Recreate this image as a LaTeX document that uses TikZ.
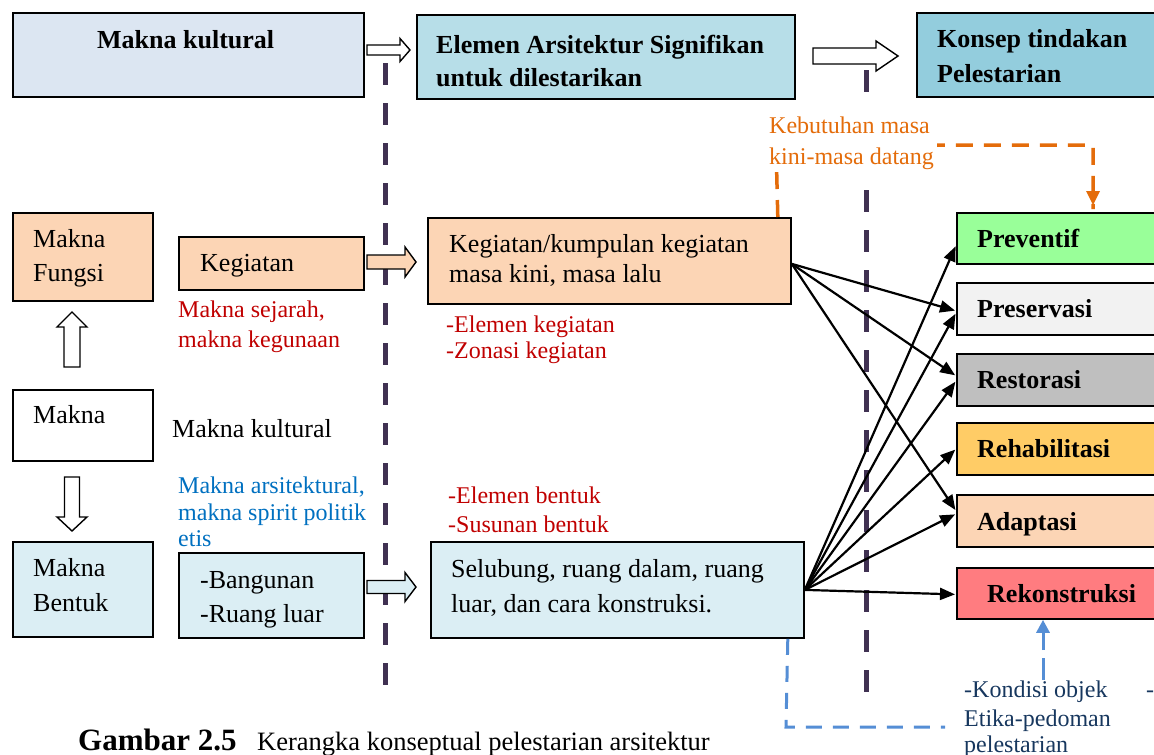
\documentclass[tikz,border=0pt]{standalone}
\usepackage{fontspec}
\setmainfont{Liberation Serif}
\usetikzlibrary{arrows.meta}
\definecolor{cHead}{HTML}{DCE6F2}
\definecolor{cElem}{HTML}{B7DEE8}
\definecolor{cKons}{HTML}{93CDDD}
\definecolor{cPeach}{HTML}{FCD5B5}
\definecolor{cLblue}{HTML}{DBEEF4}
\definecolor{cPrev}{HTML}{99FF99}
\definecolor{cPres}{HTML}{F2F2F2}
\definecolor{cRest}{HTML}{BFBFBF}
\definecolor{cReha}{HTML}{FFCC66}
\definecolor{cRek}{HTML}{FF7C80}
\definecolor{cRed}{HTML}{C00000}
\definecolor{cBlue}{HTML}{0070C0}
\definecolor{cOrange}{HTML}{E46C0A}
\definecolor{cNavy}{HTML}{17375E}
\definecolor{cPurple}{HTML}{403152}
\definecolor{cDashBlue}{HTML}{558ED5}
\begin{document}
\begin{tikzpicture}[x=1pt,y=-1pt,
  box/.style={draw=black, line width=1.8pt, inner sep=0pt, anchor=north west},
  txt/.style={anchor=base west, inner sep=0pt, font=\fontsize{26}{34}\selectfont},
  btxt/.style={anchor=base west, inner sep=0pt, font=\fontsize{26}{34}\selectfont\bfseries},
  note/.style={anchor=base west, inner sep=0pt, font=\fontsize{24}{28}\selectfont},
  harrow/.style={draw=black, line width=1.4pt, fill=white},
  conn/.style={draw=black, line width=2.2pt, -{Triangle[length=15pt,width=12pt]}, shorten >=1pt},
  sepline/.style={draw=cPurple, line width=5pt, dash pattern=on 22pt off 18pt}
]
\useasboundingbox (0,0) rectangle (1154,755);
\clip (0,0) rectangle (1154,755);

% --- boxes ---
\node[box, fill=cHead, minimum width=351pt, minimum height=84pt] (mk) at (12,12) {};
\node[box, fill=cElem, minimum width=378pt, minimum height=84pt] (el) at (416,14) {};
\node[box, fill=cKons, minimum width=250pt, minimum height=84pt] (ko) at (916,12) {};

\node[box, fill=cPeach, minimum width=140pt, minimum height=88pt] (mf) at (12,212) {};
\node[box, fill=cPeach, minimum width=185pt, minimum height=53pt] (kg) at (178,236) {};
\node[box, fill=white, minimum width=140pt, minimum height=71pt] (mn) at (12,389) {};
\node[box, fill=cLblue, minimum width=140pt, minimum height=95pt] (mb) at (12,541) {};
\node[box, fill=cLblue, minimum width=185pt, minimum height=85pt] (bg) at (178,552) {};

\node[box, fill=cPeach, minimum width=363pt, minimum height=86pt] (kk) at (427,217) {};
\node[box, fill=cLblue, minimum width=373pt, minimum height=96pt] (sel) at (430,541) {};

\node[box, fill=cPrev, minimum width=220pt, minimum height=51pt] (pv) at (956,212) {};
\node[box, fill=cPres, minimum width=220pt, minimum height=52pt] (pr) at (956,282) {};
\node[box, fill=cRest, minimum width=220pt, minimum height=52pt] (rs) at (956,353) {};
\node[box, fill=cReha, minimum width=220pt, minimum height=52pt] (rh) at (956,422) {};
\node[box, fill=cPeach, minimum width=220pt, minimum height=52pt] (ad) at (956,494) {};
\node[box, fill=cRek, minimum width=220pt, minimum height=51pt] (rk) at (956,567) {};

% --- dashed separator lines ---
\coordinate (s1a) at (385,63);
\coordinate (s1b) at (385,697);
\coordinate (s2a) at (866,70);
\coordinate (s2b) at (866,697);
\draw[sepline] (s1a) -- (s1b);
\draw[sepline] (s2a) -- (s2b);

% --- hollow block arrows ---
\draw[harrow] (367,45) -- (400,45) -- (400,38.5) -- (410,50) -- (400,61.5) -- (400,55) -- (367,55) -- cycle;
\draw[harrow] (813,48) -- (876,48) -- (876,41) -- (898,56) -- (876,71) -- (876,64) -- (813,64) -- cycle;
\draw[harrow, fill=cPeach] (367,255) -- (405,255) -- (405,247) -- (416,262) -- (405,277) -- (405,269) -- (367,269) -- cycle;
\draw[harrow, fill=cLblue] (367,580.5) -- (405,580.5) -- (405,572.5) -- (416,587) -- (405,601.5) -- (405,593.5) -- (367,593.5) -- cycle;
\draw[harrow] (64,367) -- (64,327) -- (57,327) -- (72,312) -- (87,327) -- (80,327) -- (80,367) -- cycle;
\draw[harrow] (64.5,477) -- (64.5,517) -- (57,517) -- (72,531) -- (87,517) -- (79.5,517) -- (79.5,477) -- cycle;

% --- connectors ---
\draw[conn] ([yshift=-3pt]kk.east) -- ([yshift=-2pt]pr.west);
\draw[conn] ([yshift=-3pt]kk.east) -- ([yshift=4pt]rs.west);
\draw[conn] ([yshift=-3pt]kk.east) -- ([yshift=10pt]ad.west);
\draw[conn] (sel.east) -- ([yshift=-7pt]pv.west);
\draw[conn] (sel.east) -- ([yshift=-4pt]pr.west);
\draw[conn] (sel.east) -- ([yshift=-1pt]rs.west);
\draw[conn] (sel.east) -- (rh.west);
\draw[conn] (sel.east) -- ([yshift=7pt]ad.west);
\draw[conn] (sel.east) -- ([yshift=-1pt]rk.west);

% --- orange dashed feedback ---
\coordinate (o1) at (776,145);
\coordinate (o2) at (1093,145);
\draw[cOrange, line width=3.5pt, dash pattern=on 17pt off 11pt] ([xshift=-14pt]kk.north east) -- (o1) -- (o2) -- ([yshift=3pt]pv.north -| o2);
\fill[cOrange] (1093,205) -- (1086,191) -- (1100,191) -- cycle;

% --- blue dashed feedback ---
\coordinate (b1) at (786,727);
\coordinate (b2) at (945,727);
\coordinate (b3) at (1043,680);
\draw[cDashBlue, line width=3pt, dash pattern=on 16pt off 11pt] ([xshift=-17pt]sel.south east) -- (b1) -- (b2);
\draw[cDashBlue, line width=3pt, dash pattern=on 22pt off 8pt, -{Triangle[length=13pt,width=13pt]}] (b3) -- (rk.south -| b3);

% --- texts ---
\node[btxt] (tmk) at (97,48) {Makna kultural};
\node[btxt] (tel1) at (436,53) {Elemen Arsitektur Signifikan};
\node[btxt] (tel2) at (436,86) {untuk dilestarikan};
\node[btxt] (tko1) at (937,47) {Konsep tindakan};
\node[btxt] (tko2) at (937,82) {Pelestarian};

\node[txt] (tmf1) at (33,247) {Makna};
\node[txt] (tmf2) at (33,281) {Fungsi};
\node[txt] (tkg) at (200,271) {Kegiatan};
\node[note, text=cRed] (tred1a) at (178,317) {Makna sejarah,};
\node[note, text=cRed] (tred1b) at (178,347) {makna kegunaan};
\node[txt] (tmn) at (33,423) {Makna};
\node[txt] (tmk2) at (172,437) {Makna kultural};
\node[note, text=cBlue] (tbl1) at (178,493) {Makna arsitektural,};
\node[note, text=cBlue] (tbl2) at (178,520) {makna spirit politik};
\node[note, text=cBlue] (tbl3) at (178,546) {etis};
\node[txt] (tmb1) at (33,576) {Makna};
\node[txt] (tmb2) at (33,611) {Bentuk};
\node[txt] (tbg1) at (200,588) {-Bangunan};
\node[txt] (tbg2) at (200,622) {-Ruang luar};

\node[txt] (tkk1) at (449,252) {Kegiatan/kumpulan kegiatan};
\node[txt] (tkk2) at (449,282) {masa kini, masa lalu};
\node[note, text=cRed] (tred2a) at (446,332) {-Elemen kegiatan};
\node[note, text=cRed] (tred2b) at (446,358) {-Zonasi kegiatan};
\node[note, text=cRed] (tred3a) at (448,503) {-Elemen bentuk};
\node[note, text=cRed] (tred3b) at (448,532) {-Susunan bentuk};
\node[txt] (tsel1) at (451,577) {Selubung, ruang dalam, ruang};
\node[txt] (tsel2) at (451,612) {luar, dan cara konstruksi.};

\node[btxt] (tpv) at (977,247) {Preventif};
\node[btxt] (tpr) at (977,317) {Preservasi};
\node[btxt] (trs) at (977,388) {Restorasi};
\node[btxt] (trh) at (977,457) {Rehabilitasi};
\node[btxt] (tad) at (977,530) {Adaptasi};
\node[btxt] (trk) at (987,602) {Rekonstruksi};

\fill[white] (765,109) rectangle (937,172);
\node[note, text=cOrange] (tor1) at (769,133) {Kebutuhan masa};
\node[note, text=cOrange] (tor2) at (769,164) {kini-masa datang};

\node[note, text=cNavy] (tnv1) at (964,697) {-Kondisi objek};
\node[note, text=cNavy] (tnv2) at (964,726) {Etika-pedoman};
\node[note, text=cNavy] (tnv3) at (964,752) {pelestarian};
\node[note, text=cNavy] (tnv4) at (1146,697) {-};

\node[anchor=base west, inner sep=0pt, font=\fontsize{31}{34}\selectfont\bfseries] (tcap) at (78,750) {Gambar 2.5};
\node[anchor=base west, inner sep=0pt, font=\fontsize{26.5}{30}\selectfont] (tcap2) at (257,750) {Kerangka konseptual pelestarian arsitektur};
\end{tikzpicture}
\end{document}
